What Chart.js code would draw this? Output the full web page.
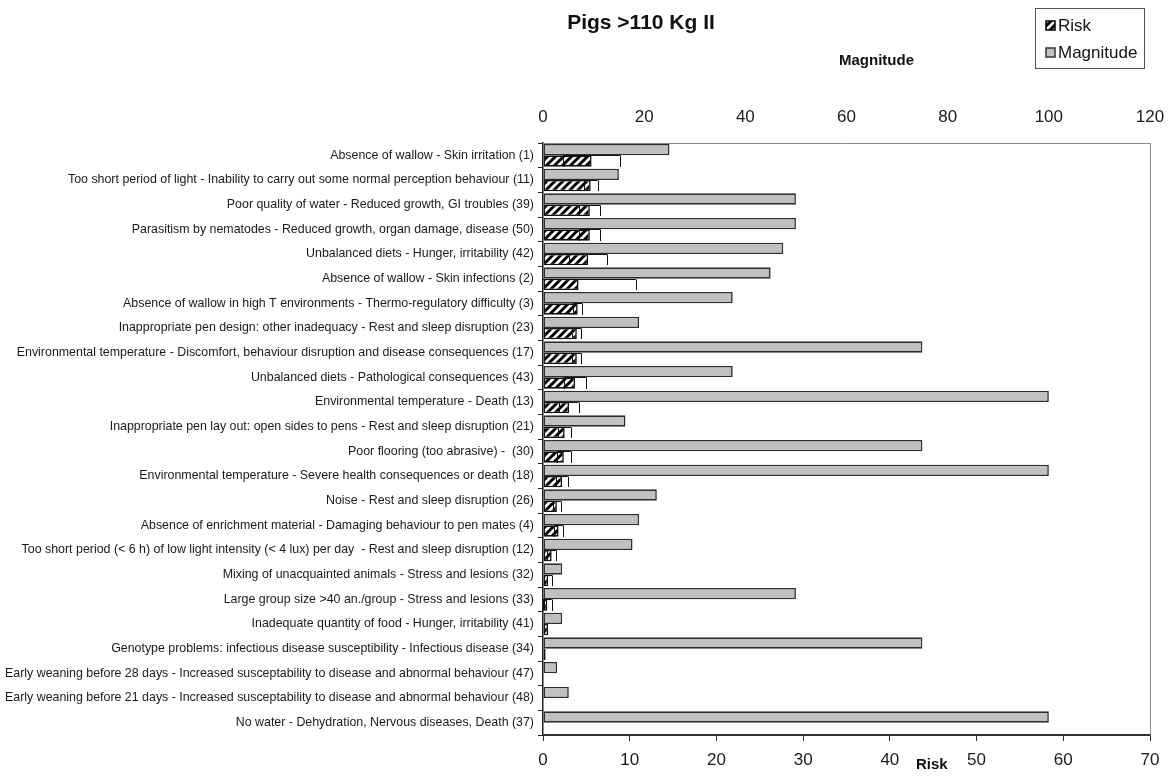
<!DOCTYPE html>
<html lang="en">
<head>
  <meta charset="UTF-8">
  <title>Pigs >110 Kg II</title>
  <script src="https://cdn.jsdelivr.net/npm/chart.js"></script>
  <style>
    html, body { margin: 0; padding: 0; background: #fff; }
  </style>
</head>
<body>
  <canvas id="riskChart" width="1169" height="776"></canvas>
  <script>
    // Hazards, top to bottom
    const hazards = [
      'Absence of wallow - Skin irritation (1)',
      'Too short period of light - Inability to carry out some normal perception behaviour (11)',
      'Poor quality of water - Reduced growth, GI troubles (39)',
      'Parasitism by nematodes - Reduced growth, organ damage, disease (50)',
      'Unbalanced diets - Hunger, irritability (42)',
      'Absence of wallow - Skin infections (2)',
      'Absence of wallow in high T environments - Thermo-regulatory difficulty (3)',
      'Inappropriate pen design: other inadequacy - Rest and sleep disruption (23)',
      'Environmental temperature - Discomfort, behaviour disruption and disease consequences (17)',
      'Unbalanced diets - Pathological consequences (43)',
      'Environmental temperature - Death (13)',
      'Inappropriate pen lay out: open sides to pens - Rest and sleep disruption (21)',
      'Poor flooring (too abrasive) -  (30)',
      'Environmental temperature - Severe health consequences or death (18)',
      'Noise - Rest and sleep disruption (26)',
      'Absence of enrichment material - Damaging behaviour to pen mates (4)',
      'Too short period (< 6 h) of low light intensity (< 4 lux) per day  - Rest and sleep disruption (12)',
      'Mixing of unacquainted animals - Stress and lesions (32)',
      'Large group size >40 an./group - Stress and lesions (33)',
      'Inadequate quantity of food - Hunger, irritability (41)',
      'Genotype problems: infectious disease susceptibility - Infectious disease (34)',
      'Early weaning before 28 days - Increased susceptability to disease and abnormal behaviour (47)',
      'Early weaning before 21 days - Increased susceptability to disease and abnormal behaviour (48)',
      'No water - Dehydration, Nervous diseases, Death (37)'
    ];

    // Magnitude (top axis, 0-120)
    const magnitude = [25, 15, 50, 50, 47.5, 45, 37.5, 19, 75, 37.5, 100, 16.3,
                       75, 100, 22.5, 19, 17.7, 3.8, 50, 3.8, 75, 2.8, 5.1, 100];

    // Risk (bottom axis, 0-70) and its error (+/-)
    const risk = [5.6, 5.5, 5.4, 5.4, 5.2, 4.1, 4.0, 3.9, 3.9, 3.7, 3.0, 2.5,
                  2.4, 2.2, 1.6, 1.8, 1.0, 0.6, 0.5, 0.6, 0.3, 0, 0, 0];
    const riskError = [3.3, 0.8, 1.2, 1.2, 2.2, 6.6, 0.5, 0.5, 0.5, 1.3, 1.1, 0.75,
                       0.8, 0.65, 0.5, 0.5, 0.5, 0.45, 0.5, 0, 0, 0, 0, 0];

    const chartTitle = 'Pigs >110 Kg II';
    const topAxisTitle = 'Magnitude';
    const bottomAxisTitle = 'Risk';

    const FONT = '"Liberation Sans", Arial, Helvetica, sans-serif';
    const canvas = document.getElementById('riskChart');
    const ctx = canvas.getContext('2d');

    // hatched fill for the Risk bars
    function makeHatch() {
      const c = document.createElement('canvas');
      c.width = 8; c.height = 8;
      const g = c.getContext('2d');
      g.fillStyle = '#fff';
      g.fillRect(0, 0, 8, 8);
      g.strokeStyle = '#000';
      g.lineWidth = 3;
      g.beginPath();
      g.moveTo(-2, 10); g.lineTo(10, -2);
      g.moveTo(-2, 2); g.lineTo(2, -2);
      g.moveTo(6, 10); g.lineTo(10, 6);
      g.stroke();
      return ctx.createPattern(c, 'repeat');
    }
    const hatch = makeHatch();

    // error bars on the Risk series
    const errorBars = {
      id: 'errorBars',
      afterDatasetsDraw(chart) {
        const meta = chart.getDatasetMeta(1);
        const xs = chart.scales.x;
        const c = chart.ctx;
        c.save();
        c.strokeStyle = '#111';
        c.lineWidth = 1;
        meta.data.forEach((bar, i) => {
          const e = riskError[i];
          if (!e) return;
          const { y, height } = bar.getProps(['y', 'height'], true);
          const lo = risk[i] - e;
          const x0 = xs.getPixelForValue(Math.max(0, lo));
          const x1 = xs.getPixelForValue(risk[i] + e);
          const top = Math.round(y - height / 2) + 0.5;
          const bot = Math.round(y + height / 2);
          c.beginPath();
          c.moveTo(x0, top); c.lineTo(x1, top);
          c.moveTo(Math.round(x1) + 0.5, top); c.lineTo(Math.round(x1) + 0.5, bot);
          if (lo >= 0) {
            c.moveTo(Math.round(x0) + 0.5, top); c.lineTo(Math.round(x0) + 0.5, bot);
          }
          c.stroke();
        });
        c.restore();
      }
    };

    // frame, titles and the boxed legend
    const decorations = {
      id: 'decorations',
      beforeDatasetsDraw(chart) {
        const a = chart.chartArea;
        const c = chart.ctx;
        c.save();
        c.strokeStyle = '#8a8a8a';
        c.lineWidth = 1;
        c.beginPath();
        c.moveTo(a.left, a.top + 0.5);
        c.lineTo(a.right + 0.5, a.top + 0.5);
        c.lineTo(a.right + 0.5, a.bottom);
        c.stroke();
        c.restore();
      },
      afterDraw(chart) {
        const c = chart.ctx;
        c.save();
        c.fillStyle = '#111';
        c.textBaseline = 'middle';
        c.textAlign = 'center';
        c.font = 'bold 21px ' + FONT;
        c.fillText(chartTitle, 641, 23);
        c.font = 'bold 15px ' + FONT;
        c.textAlign = 'left';
        c.fillText(topAxisTitle, 839, 61);
        c.fillText(bottomAxisTitle, 916, 765);

        // legend
        c.strokeStyle = '#555';
        c.lineWidth = 1;
        c.strokeRect(1035.5, 8.5, 109, 60);
        c.fillStyle = hatch;
        c.fillRect(1046, 21, 9, 9);
        c.strokeStyle = '#000';
        c.lineWidth = 1.5;
        c.strokeRect(1046, 21, 9, 9);
        c.fillStyle = '#c0c0c0';
        c.fillRect(1046, 48, 9, 9);
        c.strokeStyle = '#333';
        c.strokeRect(1046, 48, 9, 9);
        c.fillStyle = '#111';
        c.font = '17px ' + FONT;
        c.fillText('Risk', 1058, 26);
        c.fillText('Magnitude', 1058, 53);
        c.restore();
      }
    };

    new Chart(ctx, {
      type: 'bar',
      data: {
        labels: hazards,
        datasets: [
          {
            label: 'Magnitude',
            data: magnitude,
            xAxisID: 'x2',
            backgroundColor: '#c0c0c0',
            borderColor: '#2e2e2e',
            borderWidth: 1.6,
            borderSkipped: false,
            categoryPercentage: 0.92,
            barPercentage: 1
          },
          {
            label: 'Risk',
            data: risk,
            xAxisID: 'x',
            backgroundColor: hatch,
            borderColor: '#111',
            borderWidth: 1.6,
            borderSkipped: false,
            categoryPercentage: 0.92,
            barPercentage: 1
          }
        ]
      },
      options: {
        indexAxis: 'y',
        responsive: false,
        animation: false,
        devicePixelRatio: 1,
        layout: { padding: { top: 103, right: 19, left: 0, bottom: 0 } },
        plugins: {
          legend: { display: false },
          title: { display: false },
          tooltip: { enabled: false }
        },
        scales: {
          y: {
            position: 'left',
            offset: true,
            grid: { offset: true, drawOnChartArea: false, drawTicks: true, tickLength: 5, color: '#222' },
            border: { color: '#222', width: 1.5 },
            ticks: { autoSkip: false, padding: 4, color: '#1a1a1a', font: { family: FONT, size: 12.4 } },
            afterFit(s) { s.width = 543; }
          },
          x: {
            position: 'bottom',
            min: 0,
            max: 70,
            ticks: { stepSize: 10, padding: 9, color: '#1a1a1a', font: { family: FONT, size: 17 } },
            grid: { drawOnChartArea: false, drawTicks: true, tickLength: 6, color: '#333' },
            border: { color: '#333', width: 2 },
            afterFit(s) { s.height = 41; s.paddingLeft = 0; s.paddingRight = 0; }
          },
          x2: {
            position: 'top',
            min: 0,
            max: 120,
            ticks: { stepSize: 20, padding: 15, color: '#1a1a1a', font: { family: FONT, size: 17 } },
            grid: { drawOnChartArea: false, drawTicks: false },
            border: { display: false },
            afterFit(s) { s.height = 40; s.paddingLeft = 0; s.paddingRight = 0; }
          }
        }
      },
      plugins: [decorations, errorBars]
    });
  </script>
</body>
</html>
